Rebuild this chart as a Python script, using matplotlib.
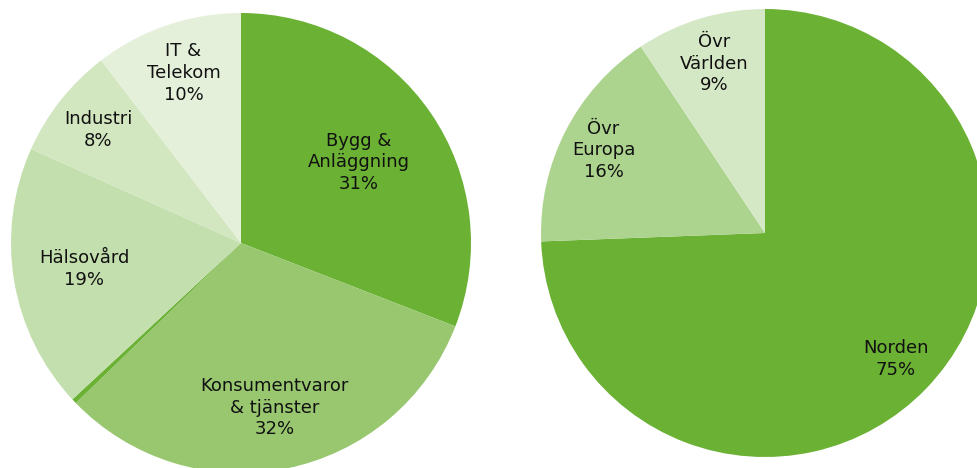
import numpy as np
import matplotlib.pyplot as plt

# Bransch (vänster cirkel)
branscher = ["Bygg &\nAnläggning", "Konsumentvaror\n& tjänster", "", "Hälsovård", "Industri", "IT &\nTelekom"]
bransch_andel = [30.9, 31.85, 0.35, 18.6, 7.9, 10.4]
bransch_text = ["31%", "32%", "", "19%", "8%", "10%"]
bransch_farg = ["#6ab134", "#98c76f", "#6ab134", "#c3dfae", "#d2e6c0", "#e5f0da"]

# Geografi (höger cirkel)
regioner = ["Norden", "Övr\nEuropa", "Övr\nVärlden"]
region_andel = [74.4, 16.25, 9.35]
region_text = ["75%", "16%", "9%"]
region_farg = ["#6ab134", "#add48f", "#d5e8c5"]

fig = plt.figure(figsize=(9.78, 4.68), dpi=100)
ax = fig.add_axes([0, 0, 1, 1])
ax.set_xlim(0, 978)
ax.set_ylim(0, 468)
ax.set_aspect("equal")
ax.axis("off")


def rita_paj(center, r, values, colors, names, pcts, dists):
    wedges, _ = ax.pie(values, colors=colors, startangle=90, counterclock=False,
                       center=center, radius=r, frame=True,
                       wedgeprops=dict(linewidth=0))
    for w, n, p, d in zip(wedges, names, pcts, dists):
        if not n:
            continue
        a = np.deg2rad((w.theta1 + w.theta2) / 2)
        x = center[0] + d * r * np.cos(a)
        y = center[1] + d * r * np.sin(a)
        ax.text(x, y, n + "\n" + p, ha="center", va="center",
                fontsize=13, color="#111111", linespacing=1.27)


rita_paj((241, 225), 230, bransch_andel, bransch_farg, branscher, bransch_text,
         [0.62, 0.73, 0, 0.69, 0.79, 0.78])
rita_paj((765, 235), 224, region_andel, region_farg, regioner, region_text,
         [0.81, 0.81, 0.79])

ax.set_xlim(0, 978)
ax.set_ylim(0, 468)
ax.axis("off")

fig.savefig("out.png", dpi=100)
